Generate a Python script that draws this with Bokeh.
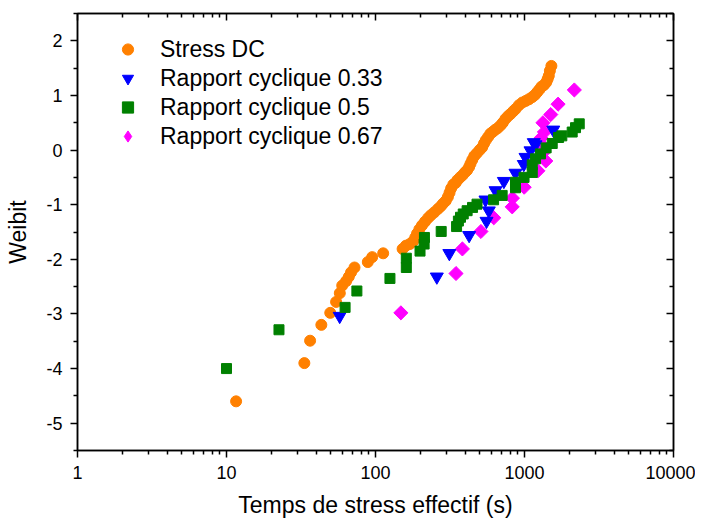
import math
from bokeh.plotting import figure
from bokeh.models import (Legend, LegendItem, LinearAxis, LogAxis, FixedTicker,
                          PrintfTickFormatter, ColumnDataSource)
from bokeh.embed import file_html
from bokeh.resources import INLINE

# ---- data ----
dc_time = [11.6, 33.3, 36.4, 43.3, 49.7, 54.4, 57.6, 59.8, 63.5, 66.2, 68.5, 72.3,
           88.8, 95, 112.6, 152, 160, 170, 179, 185, 190, 197, 205, 215, 226, 236,
           248, 262, 274, 284, 296, 306, 314, 322, 333, 345, 355, 370, 384, 398,
           412, 425, 434, 446, 460, 478, 500, 520, 535, 550, 570, 590, 610, 635,
           660, 690, 715, 745, 775, 805, 840, 870, 916, 966, 1020, 1070, 1127, 1175,
           1217, 1260, 1300, 1350, 1400, 1430, 1456, 1480, 1515]
dc_weibit = [-4.60, -3.90, -3.49, -3.20, -2.98, -2.78, -2.62, -2.48, -2.40, -2.32, -2.24, -2.15,
             -2.05, -1.96, -1.89, -1.81, -1.75, -1.72, -1.67, -1.60, -1.53, -1.45, -1.38, -1.31,
             -1.24, -1.19, -1.14, -1.08, -1.03, -0.98, -0.93, -0.86, -0.78, -0.70, -0.63, -0.60,
             -0.55, -0.50, -0.46, -0.41, -0.37, -0.31, -0.25, -0.18, -0.11, -0.06, 0.00, 0.05,
             0.12, 0.18, 0.24, 0.30, 0.33, 0.37, 0.40, 0.45, 0.50, 0.57, 0.62, 0.66, 0.71,
             0.75, 0.82, 0.87, 0.90, 0.93, 0.97, 1.01, 1.06, 1.11, 1.16, 1.19, 1.24, 1.30,
             1.36, 1.45, 1.54]

c033_time = [57.5, 258, 313, 425, 556, 576, 547, 639, 727, 870, 989, 1016, 1097,
             1186, 1154, 1560]
c033_weibit = [-3.04, -2.32, -1.89, -1.56, -1.30, -1.11, -0.91, -0.74, -0.57, -0.42,
               -0.26, -0.13, -0.01, 0.10, 0.14, 0.37]

c05_time = [10, 22.5, 62.5, 75, 125, 161, 161, 199, 212, 213, 276, 350, 360, 372, 388,
            412, 448, 480, 620, 708, 870, 870, 993, 1127, 1127, 1186, 1280, 1397, 1535,
            1693, 1780, 2090, 2200, 2330]
c05_weibit = [-4.00, -3.29, -2.88, -2.58, -2.35, -2.15, -1.98, -1.85, -1.72, -1.60, -1.49,
              -1.40, -1.30, -1.23, -1.17, -1.11, -1.05, -0.99, -0.91, -0.83, -0.69, -0.59,
              -0.50, -0.41, -0.27, -0.16, -0.07, 0.04, 0.12, 0.23, 0.26, 0.33, 0.41, 0.48]

c067_time = [148, 347, 383, 510, 622, 827, 830, 995, 1230, 1390, 1330, 1300, 1290,
             1360, 1330, 1500, 1680, 2160]
c067_weibit = [-2.98, -2.26, -1.81, -1.49, -1.24, -1.04, -0.88, -0.68, -0.38, -0.20,
               -0.05, 0.10, 0.22, 0.33, 0.50, 0.65, 0.84, 1.10]

x_major = [1, 10, 100, 1000, 10000]
y_major = [-5, -4, -3, -2, -1, 0, 1, 2]

FONT = "Liberation Sans"

p = figure(width=695, height=521, x_axis_type="log", x_range=(1, 10000),
           y_range=(-5.5, 2.5), output_backend="svg", toolbar_location=None,
           min_border_left=77, min_border_right=22, min_border_top=13,
           min_border_bottom=71)
p.grid.visible = False
p.outline_line_color = "black"
p.outline_line_width = 1.5
p.background_fill_color = "white"
p.border_fill_color = "white"

x_minor = [m * 10 ** e for e in range(4) for m in range(2, 10)]
y_minor = [k + 0.5 for k in range(-6, 3)]
xt = FixedTicker(ticks=x_major, minor_ticks=x_minor)
yt = FixedTicker(ticks=y_major, minor_ticks=y_minor)


def style(ax, outside=True, labels=True):
    ax.axis_line_color = "black"
    ax.axis_line_width = 1.5
    ax.major_tick_line_color = "black"
    ax.minor_tick_line_color = "black"
    ax.major_tick_line_width = 1.5
    ax.minor_tick_line_width = 1.5
    if outside:
        ax.major_tick_out, ax.major_tick_in = 7, 0
        ax.minor_tick_out, ax.minor_tick_in = 4, 0
    else:
        ax.major_tick_out, ax.major_tick_in = 0, 7
        ax.minor_tick_out, ax.minor_tick_in = 0, 4
    if labels:
        ax.major_label_text_font = FONT
        ax.major_label_text_font_size = "18px"
        ax.major_label_text_color = "black"
        ax.axis_label_text_font = FONT
        ax.axis_label_text_font_size = "23px"
        ax.axis_label_text_font_style = "normal"
        ax.axis_label_text_color = "black"
    else:
        ax.major_label_text_font_size = "1px"
        ax.major_label_text_alpha = 0
        ax.major_label_standoff = 0


xa = p.xaxis[0]
xa.ticker = xt
xa.formatter = PrintfTickFormatter(format="%d")
xa.axis_label = "Temps de stress effectif (s)"
xa.major_label_standoff = 8
xa.axis_label_standoff = 10
style(xa)

ya = p.yaxis[0]
ya.ticker = yt
ya.formatter = PrintfTickFormatter(format="%d")
ya.axis_label = "Weibit"
ya.major_label_standoff = 8
ya.axis_label_standoff = 12
style(ya)

top = LogAxis(ticker=xt)
style(top, outside=False, labels=False)
p.add_layout(top, "above")
right = LinearAxis(ticker=yt)
style(right, outside=False, labels=False)
p.add_layout(right, "right")

src_dc = ColumnDataSource(dict(x=dc_time, y=dc_weibit))
src_033 = ColumnDataSource(dict(x=c033_time, y=c033_weibit))
src_05 = ColumnDataSource(dict(x=c05_time, y=c05_weibit))
src_067 = ColumnDataSource(dict(x=c067_time, y=c067_weibit))

r_dc = p.scatter("x", "y", source=src_dc, marker="circle", size=11,
                 fill_color="#ff8000", line_color="#ff8000")
r_067 = p.scatter("x", "y", source=src_067, marker="square", angle=math.pi / 4,
                  size=10, fill_color="#ff00ff", line_color="#ff00ff")
r_033 = p.scatter("x", "y", source=src_033, marker="inverted_triangle", size=13,
                  fill_color="#0000ff", line_color="#0000ff")
r_05 = p.scatter("x", "y", source=src_05, marker="square", size=10,
                 fill_color="#008000", line_color="#008000")
# legend key for the diamond series: same source, hidden in the plot
r_067_key = p.scatter("x", "y", source=src_067, marker="diamond", size=14,
                      fill_color="#ff00ff", line_color="#ff00ff", visible=False)

legend = Legend(items=[
    LegendItem(label="Stress DC", renderers=[r_dc]),
    LegendItem(label="Rapport cyclique 0.33", renderers=[r_033]),
    LegendItem(label="Rapport cyclique 0.5", renderers=[r_05]),
    LegendItem(label="Rapport cyclique 0.67", renderers=[r_067_key]),
], location="top_left")
legend.label_text_font = FONT
legend.label_text_font_size = "23px"
legend.label_text_color = "black"
legend.glyph_width = 57
legend.glyph_height = 28
legend.label_height = 28
legend.label_standoff = 4
legend.spacing = 1
legend.padding = 0
legend.margin = 22
legend.border_line_color = None
legend.background_fill_alpha = 0
legend.inactive_fill_alpha = 0
p.add_layout(legend)

open("out.html", "w").write(file_html(p, INLINE))
